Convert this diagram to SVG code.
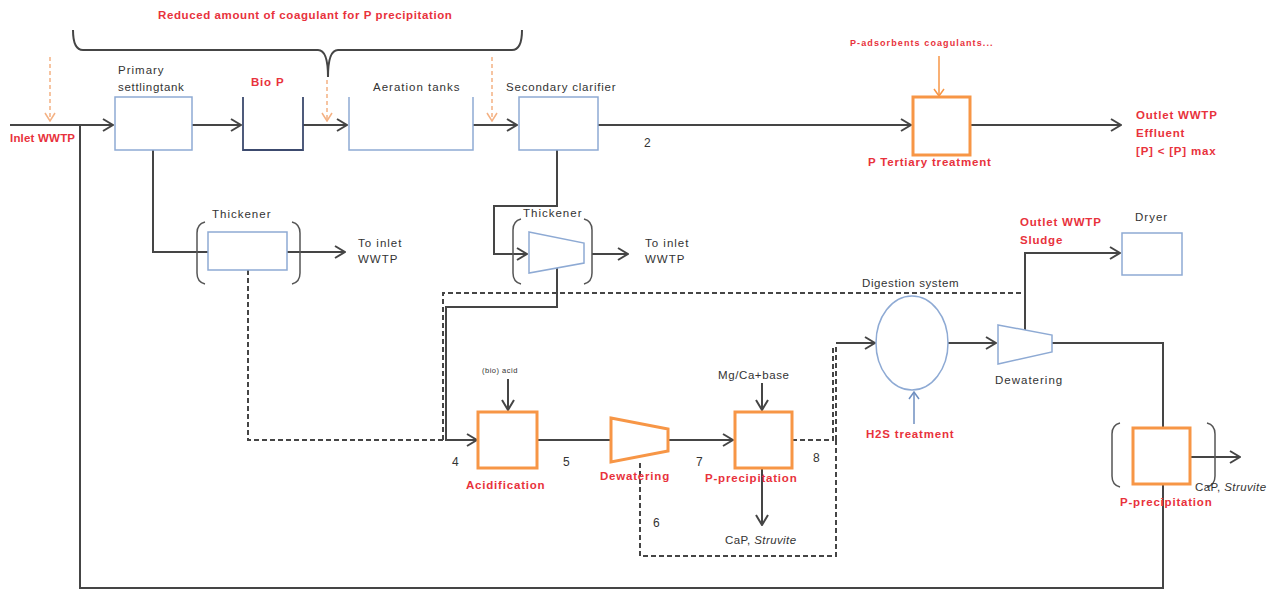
<svg xmlns="http://www.w3.org/2000/svg" width="1272" height="592" viewBox="0 0 1272 592">
<defs>
<style>
.ln{fill:none;stroke:#454545;stroke-width:2}
.ds{fill:none;stroke:#454545;stroke-width:2;stroke-dasharray:5,3}
.od{fill:none;stroke:#f4b183;stroke-width:1.5;stroke-dasharray:4,3}
.bl{fill:#fff;stroke:#8eaad4;stroke-width:1.5}
.bo{fill:none;stroke:#8eaad4;stroke-width:1.5}
.or{fill:#fff;stroke:#f79646;stroke-width:3}
.pr{fill:none;stroke:#555;stroke-width:1.5}
.t{font-family:"Liberation Sans",Arial,sans-serif;font-size:11.5px;letter-spacing:1px;fill:#333}
.r{fill:#e8323c;font-weight:bold;letter-spacing:0.8px}
.n{font-size:12px;letter-spacing:0}
</style>
<marker id="a" markerUnits="userSpaceOnUse" markerWidth="12" markerHeight="14" refX="11" refY="7" orient="auto"><path d="M1,1 L11,7 L1,13" fill="none" stroke="#454545" stroke-width="2"/></marker>
<marker id="ao" markerUnits="userSpaceOnUse" markerWidth="12" markerHeight="12" refX="6" refY="11" orient="0"><path d="M1,3 L6,11 L11,3" fill="none" stroke="#f4b183" stroke-width="1.5"/></marker>
<marker id="aor" markerUnits="userSpaceOnUse" markerWidth="12" markerHeight="12" refX="6" refY="11" orient="0"><path d="M1,4 L6,11 L11,4" fill="none" stroke="#f79646" stroke-width="1.5"/></marker>
<marker id="ab" markerUnits="userSpaceOnUse" markerWidth="12" markerHeight="12" refX="6" refY="1" orient="0"><path d="M1,8 L6,1 L11,8" fill="none" stroke="#6f8fc0" stroke-width="1.5"/></marker>
</defs>
<rect width="1272" height="592" fill="#fff"/>

<g id="connectors">
<path class="ln" d="M10,125 H113" marker-end="url(#a)"/>
<path class="ln" d="M192,125 H241" marker-end="url(#a)"/>
<path class="ln" d="M303,125 H347" marker-end="url(#a)"/>
<path class="ln" d="M473,125 H517" marker-end="url(#a)"/>
<path class="ln" d="M598,125 H911" marker-end="url(#a)"/>
<path class="ln" d="M970,125 H1121" marker-end="url(#a)"/>
<path class="od" d="M50,57 V121" marker-end="url(#ao)"/>
<path class="od" d="M327,80 V121" marker-end="url(#ao)"/>
<path class="od" d="M492,57 V121" marker-end="url(#ao)"/>
<path d="M939,56 V96" fill="none" stroke="#f79646" stroke-width="1.5" marker-end="url(#aor)"/>
<path d="M73,30 Q73,50 83,50 H318 Q328,50 328,77 Q328,50 338,50 H512 Q522,50 522,30" fill="none" stroke="#454545" stroke-width="2"/>
<path class="ln" d="M153,150 V252 H208"/>
<path class="ln" d="M287,252 H345" marker-end="url(#a)"/>
<path class="ln" d="M557,150 V206 H494 V254 H527" marker-end="url(#a)"/>
<path class="ln" d="M592,254 H628" marker-end="url(#a)"/>
<path class="ln" d="M557,268 V307 H446 V440 H477" marker-end="url(#a)"/>
<path class="ds" d="M248,270 V440 H446"/>
<path class="ds" d="M443,440 V293 H1025"/>
<path class="ln" d="M508,379 V410" marker-end="url(#a)"/>
<path class="ln" d="M762,383 V410" marker-end="url(#a)"/>
<path class="ln" d="M537,440 H611"/>
<path class="ln" d="M668,440 H733" marker-end="url(#a)"/>
<path class="ln" d="M762,468 V525" marker-end="url(#a)"/>
<path class="ds" d="M792,440 H833 V345"/>
<path class="ds" d="M836,440 V556 H640 V462"/>
<path class="ln" d="M836,343 H875" marker-end="url(#a)"/>
<path class="ds" d="M836,440 V345"/>
<path class="ln" d="M948,343 H996" marker-end="url(#a)"/>
<path d="M914,424 V392" fill="none" stroke="#6f8fc0" stroke-width="1.5" marker-end="url(#ab)"/>
<path class="ln" d="M1025,330 V253 H1120" marker-end="url(#a)"/>
<path class="ln" d="M1052,343 H1163 V588 H80 V125"/>
<path class="ln" d="M1190,457 H1240" marker-end="url(#a)"/>
</g>

<g id="title"><text class="t r" x="158" y="19" style="letter-spacing:0.6px">Reduced amount of coagulant for P precipitation</text></g>

<g id="inlet"><text class="t r" x="10" y="142" style="letter-spacing:0.2px">Inlet WWTP</text></g>

<g id="primary">
<rect class="bl" x="115" y="97" width="77" height="53"/>
<text class="t" x="118" y="74">Primary</text>
<text class="t" x="118" y="91" style="letter-spacing:0.7px">settlingtank</text>
</g>

<g id="biop">
<path d="M243,97 V150 H303 V97" fill="#fff" stroke="#3c4a6e" stroke-width="1.8"/>
<text class="t r" x="251" y="86">Bio P</text>
</g>

<g id="aeration">
<path class="bo" d="M349,97 V150 H473 V97"/>
<text class="t" x="373" y="91">Aeration tanks</text>
</g>

<g id="secondary">
<rect class="bl" x="519" y="97" width="79" height="53"/>
<text class="t" x="506" y="91" style="letter-spacing:0.8px">Secondary clarifier</text>
</g>

<g id="label2"><text class="t n" x="644" y="147">2</text></g>

<g id="tertiary">
<rect class="or" x="913" y="97" width="57" height="58"/>
<text class="t r" x="850" y="46" style="font-size:9px;letter-spacing:1.1px">P-adsorbents coagulants...</text>
<text class="t r" x="868" y="166">P Tertiary treatment</text>
</g>

<g id="outlet-effluent">
<text class="t r" x="1136" y="119">Outlet WWTP</text>
<text class="t r" x="1136" y="137">Effluent</text>
<text class="t r" x="1136" y="155">[P] &lt; [P] max</text>
</g>

<g id="thickener1">
<rect class="bl" x="208" y="232" width="79" height="38"/>
<path class="pr" d="M205,222 Q197,224 197,233 V273 Q197,282 205,284"/>
<path class="pr" d="M292,222 Q300,224 300,233 V273 Q300,282 292,284"/>
<text class="t" x="212" y="218">Thickener</text>
<text class="t" x="358" y="247">To inlet</text>
<text class="t" x="358" y="263">WWTP</text>
</g>

<g id="thickener2">
<path class="bl" d="M529,232 L584,243 V263 L529,273 Z"/>
<path class="pr" d="M521,219 Q513,221 513,230 V273 Q513,282 521,284"/>
<path class="pr" d="M584,219 Q592,221 592,230 V273 Q592,282 584,284"/>
<text class="t" x="523" y="217">Thickener</text>
<text class="t" x="645" y="247">To inlet</text>
<text class="t" x="645" y="263">WWTP</text>
</g>

<g id="acidification">
<rect class="or" x="478" y="412" width="59" height="56"/>
<text class="t" x="482" y="373" style="font-size:7.5px;letter-spacing:0.5px">(bio) acid</text>
<text class="t n" x="452" y="466">4</text>
<text class="t r" x="466" y="489">Acidification</text>
<text class="t n" x="563" y="466">5</text>
</g>

<g id="dewatering1">
<path class="or" d="M611,418 L668,429 V451 L611,462 Z"/>
<text class="t r" x="600" y="480">Dewatering</text>
<text class="t n" x="696" y="466">7</text>
<text class="t n" x="653" y="527">6</text>
</g>

<g id="pprecip1">
<rect class="or" x="735" y="412" width="57" height="56"/>
<text class="t" x="718" y="379" style="letter-spacing:0.6px">Mg/Ca+base</text>
<text class="t r" x="705" y="482">P-precipitation</text>
<text class="t n" x="813" y="462">8</text>
<text class="t" x="725" y="544" style="letter-spacing:0.4px">CaP, <tspan font-style="italic">Struvite</tspan></text>
</g>

<g id="digester">
<ellipse class="bl" cx="912" cy="343" rx="36" ry="47"/>
<text class="t" x="862" y="287" style="letter-spacing:0.6px">Digestion system</text>
<text class="t r" x="866" y="438">H2S treatment</text>
</g>

<g id="dewatering2">
<path class="bl" d="M998,325 L1052,335 V352 L998,364 Z"/>
<text class="t" x="995" y="384">Dewatering</text>
</g>

<g id="outlet-sludge">
<text class="t r" x="1020" y="226">Outlet WWTP</text>
<text class="t r" x="1020" y="244">Sludge</text>
</g>

<g id="dryer">
<rect class="bl" x="1122" y="233" width="60" height="42"/>
<text class="t" x="1135" y="221">Dryer</text>
</g>

<g id="pprecip2">
<rect class="or" x="1133" y="428" width="57" height="56"/>
<path class="pr" d="M1120,423 Q1112,425 1112,434 V476 Q1112,485 1120,487"/>
<path class="pr" d="M1207,423 Q1215,425 1215,434 V476 Q1215,485 1207,487"/>
<text class="t" x="1195" y="491" style="letter-spacing:0.4px">CaP, <tspan font-style="italic">Struvite</tspan></text>
<text class="t r" x="1120" y="506">P-precipitation</text>
</g>
</svg>
